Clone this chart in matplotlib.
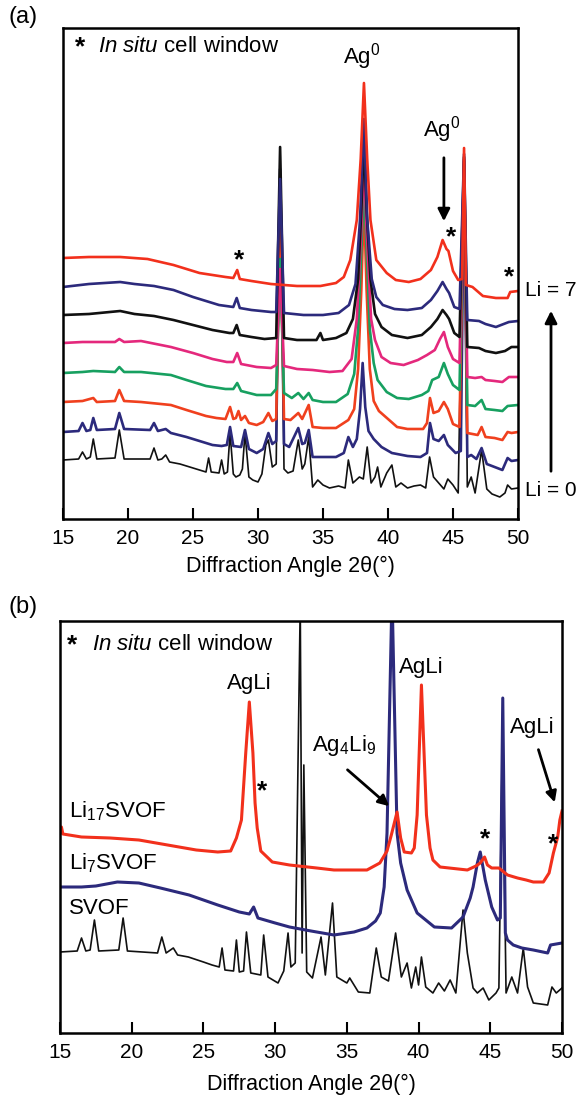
import matplotlib
matplotlib.use('Agg')
import matplotlib.pyplot as plt

plt.rcParams['font.family'] = ['Liberation Sans', 'DejaVu Sans']
plt.rcParams['mathtext.fontset'] = 'custom'
plt.rcParams['mathtext.rm'] = 'Liberation Sans'
plt.rcParams['mathtext.it'] = 'Liberation Sans:italic'

# ---- panel (a): in situ patterns, Li = 0 ... 7 (2theta, offset intensity) ----
li0 = [(15, 59), (16.2, 60), (16.5, 67), (16.8, 60), (17.1, 62), (17.33, 80), (17.6, 60), (19.0, 61),
       (19.33, 89), (19.7, 60), (21.7, 60), (22.0, 71), (22.3, 59), (22.6, 60), (22.9, 64), (23.2, 57),
       (24.0, 55), (25.0, 51), (26.0, 47), (26.2, 61), (26.4, 47), (27.0, 46), (27.2, 59), (27.4, 45),
       (27.65, 47), (27.85, 86), (28.1, 45), (28.3, 42), (28.6, 44), (28.8, 50), (29.0, 86), (29.3, 42),
       (29.6, 39), (30.0, 37), (30.3, 45), (30.6, 74), (30.8, 79), (31.1, 52), (31.4, 55), (31.7, 372),
       (32.0, 50), (32.3, 46), (32.7, 48), (33.1, 79), (33.4, 50), (33.6, 55), (33.9, 82), (34.2, 32),
       (34.6, 39), (35.0, 34), (35.5, 31), (36.2, 33), (36.7, 31), (36.95, 59), (37.3, 36), (37.8, 42),
       (38.1, 40), (38.4, 72), (38.7, 36), (39.0, 42), (39.2, 52), (39.45, 32), (39.9, 46), (40.3, 54),
       (40.6, 32), (41.0, 36), (41.5, 31), (42.0, 33), (42.5, 34), (42.9, 31), (43.2, 62), (43.5, 42),
       (43.9, 36), (44.3, 30), (44.6, 40), (45.0, 34), (45.4, 26), (45.85, 360), (46.1, 32), (46.4, 42),
       (46.7, 26), (47.2, 69), (47.6, 30), (48.0, 25), (48.6, 22), (49.0, 26), (49.2, 34), (49.5, 30),
       (50, 31)]
li1 = [(15, 87), (16.2, 88), (16.5, 96), (16.8, 88), (17.1, 89), (17.33, 101), (17.6, 89), (19.0, 90),
       (19.33, 106), (19.7, 90), (21.7, 89), (22.0, 96), (22.3, 88), (22.9, 90), (23.3, 86), (24.5, 82),
       (26.0, 76), (26.5, 74), (27.2, 73), (27.6, 74), (27.85, 92), (28.1, 73), (28.7, 72), (29.0, 89),
       (29.3, 70), (29.9, 66), (30.4, 70), (30.8, 86), (31.1, 75), (31.4, 78), (31.7, 350), (32.0, 75),
       (32.4, 72), (33.1, 91), (33.4, 75), (33.6, 76), (33.9, 89), (34.2, 62), (35.0, 62), (36.0, 62),
       (36.6, 66), (36.95, 82), (37.3, 72), (37.6, 80), (37.85, 110), (38.05, 156), (38.25, 112),
       (38.5, 88), (38.9, 80), (39.5, 72), (40.3, 66), (41.5, 63), (42.5, 62), (43.0, 66), (43.23, 96),
       (43.5, 80), (43.9, 78), (44.3, 84), (44.6, 74), (45.2, 66), (45.6, 68), (45.85, 350), (46.1, 62),
       (46.4, 64), (46.8, 60), (47.2, 71), (47.6, 55), (48.2, 52), (48.8, 49), (49.2, 61), (49.5, 58),
       (50, 59)]
li2 = [(15, 117), (16.5, 118), (17.33, 121), (17.6, 117), (19.0, 118), (19.33, 129), (19.7, 118),
       (21, 117), (23.3, 114), (24.5, 109), (26.0, 103), (26.8, 101), (27.5, 100), (27.85, 112),
       (28.1, 100), (28.3, 101), (28.5, 108), (28.7, 99), (29.0, 103), (29.3, 96), (29.9, 94), (30.4, 97),
       (30.8, 106), (31.1, 98), (31.4, 100), (31.7, 300), (32.0, 100), (32.5, 99), (33.1, 106),
       (33.4, 100), (33.9, 114), (34.2, 92), (35.0, 91), (36.0, 91), (36.95, 99), (37.4, 110),
       (37.7, 150), (37.95, 230), (38.15, 320), (38.35, 230), (38.6, 150), (38.9, 118), (39.3, 108),
       (40.0, 100), (40.7, 92), (41.5, 90), (42.7, 90), (43.0, 96), (43.23, 121), (43.5, 106),
       (43.9, 108), (44.3, 117), (44.6, 110), (45.0, 95), (45.5, 92), (45.85, 355), (46.1, 86),
       (46.5, 85), (46.9, 84), (47.2, 92), (47.5, 82), (48.2, 81), (48.8, 79), (49.2, 87), (49.5, 86),
       (50, 87)]
li3 = [(15, 146), (16.5, 147), (17.33, 148), (19.0, 147), (19.33, 152), (19.7, 147), (21, 147),
       (23.3, 144), (24.5, 139), (26.0, 133), (27.5, 130), (28.1, 130), (28.4, 136), (28.7, 128),
       (29.9, 124), (31.0, 124), (31.4, 130), (31.7, 260), (32.0, 126), (32.6, 121), (33.1, 126),
       (33.5, 120), (33.9, 126), (34.2, 119), (35.0, 117), (36.0, 117), (36.9, 125), (37.4, 145),
       (37.7, 190), (37.95, 270), (38.15, 340), (38.35, 270), (38.6, 190), (38.9, 156), (39.2, 139),
       (39.9, 127), (40.7, 121), (41.6, 120), (42.6, 124), (43.1, 128), (43.4, 139), (43.9, 142),
       (44.3, 156), (44.6, 145), (45.0, 134), (45.5, 129), (45.85, 358), (46.1, 114), (46.7, 113),
       (47.2, 119), (47.5, 110), (48.2, 109), (48.8, 108), (49.2, 113), (50, 114)]
li4 = [(15, 176), (16.5, 177), (19.0, 177), (19.33, 180), (19.7, 177), (21, 178), (23.3, 172),
       (25.0, 166), (26.5, 160), (27.6, 157), (28.1, 157), (28.4, 166), (28.7, 155), (29.9, 152),
       (31.0, 151), (31.4, 154), (31.7, 250), (32.0, 153), (33.0, 150), (34.2, 149), (35.5, 147),
       (36.5, 148), (37.2, 160), (37.6, 200), (37.95, 290), (38.15, 360), (38.35, 290), (38.7, 200),
       (39.0, 179), (39.5, 162), (40.2, 156), (41.2, 154), (42.3, 159), (43.0, 164), (43.6, 169),
       (44.0, 180), (44.3, 187), (44.6, 172), (45.0, 160), (45.5, 156), (45.85, 360), (46.1, 142),
       (46.7, 141), (47.2, 142), (47.5, 139), (48.2, 138), (48.8, 137), (49.3, 142), (50, 142)]
li5 = [(15, 204), (17, 205), (19.4, 208), (20.5, 205), (22, 203), (23.5, 199), (25, 194), (26.5, 189),
       (27.8, 186), (28.1, 186), (28.36, 194), (28.6, 184), (29.5, 182), (30.5, 180), (31.4, 181),
       (31.7, 372), (32.0, 181), (33.0, 179), (34.5, 179), (34.8, 186), (35.0, 179), (36.0, 181),
       (36.8, 186), (37.3, 200), (37.7, 240), (37.95, 310), (38.15, 380), (38.35, 310), (38.65, 240),
       (39.0, 205), (39.5, 192), (40.3, 184), (41.5, 181), (42.6, 184), (43.3, 192), (43.8, 200),
       (44.2, 209), (44.5, 204), (44.7, 200), (45.1, 186), (45.5, 182), (45.85, 362), (46.1, 172),
       (47.0, 171), (47.5, 168), (48.3, 166), (49.0, 168), (49.5, 172), (50, 172)]
li6 = [(15, 232), (17, 235), (19.4, 237), (20.5, 235), (22, 233), (23.5, 229), (25, 222), (27, 214),
       (28.1, 212), (28.36, 221), (28.6, 211), (29.5, 209), (31.0, 207), (31.4, 207), (31.7, 340),
       (32.0, 206), (33.5, 204), (35.0, 204), (36.2, 206), (37.0, 214), (37.5, 235), (37.85, 300),
       (38.15, 400), (38.4, 300), (38.75, 240), (39.1, 222), (39.6, 214), (40.5, 210), (41.5, 209),
       (42.6, 211), (43.3, 219), (43.8, 228), (44.2, 237), (44.5, 230), (44.7, 226), (45.1, 212),
       (45.5, 210), (45.85, 365), (46.1, 199), (47.0, 198), (47.5, 195), (48.3, 192), (48.9, 195),
       (49.3, 197), (50, 198)]
li7 = [(15, 261), (17, 262), (19.4, 262), (21.5, 260), (23.5, 254), (25.5, 246), (27.5, 242),
       (28.1, 241), (28.4, 249), (28.6, 240), (29.5, 238), (31.0, 235), (33.0, 233), (34.8, 233),
       (36.0, 236), (36.6, 242), (37.1, 259), (37.6, 299), (37.9, 360), (38.15, 436), (38.4, 360),
       (38.65, 299), (39.1, 259), (39.9, 246), (40.6, 239), (41.6, 237), (42.5, 240), (43.3, 249),
       (43.8, 262), (44.2, 279), (44.5, 270), (44.65, 268), (45.0, 248), (45.4, 239), (45.7, 240),
       (45.85, 371), (46.0, 234), (46.5, 232), (47.3, 223), (48.3, 221), (49.2, 221), (49.4, 227),
       (50, 228)]
traces_a = [li0, li1, li2, li3, li4, li5, li6, li7]
colors_a = ['#111111', '#2c2a7c', '#f0401e', '#17a060', '#e4287c', '#111111', '#2c2a7c', '#f2301c']

# ---- panel (b): SVOF, Li7SVOF, Li17SVOF ----
svof = [(15, 81), (16.2, 82), (16.5, 95), (16.8, 82), (17.1, 83), (17.4, 113), (17.7, 82), (19.1, 83),
        (19.4, 115), (19.7, 82), (21.8, 80), (22.1, 96), (22.4, 80), (22.9, 85), (23.2, 78), (23.95, 76),
        (25.0, 71), (25.6, 68), (26.1, 66), (26.3, 85), (26.5, 63), (27.1, 62), (27.3, 93), (27.5, 61),
        (27.8, 62), (28.0, 101), (28.3, 60), (29.0, 58), (29.2, 98), (29.5, 56), (30.2, 50), (30.6, 62),
        (30.9, 100), (31.1, 66), (31.4, 70), (31.75, 430), (31.88, 80), (32.0, 268), (32.2, 61),
        (32.6, 55), (33.2, 96), (33.5, 58), (34.0, 130), (34.3, 56), (35.0, 50), (35.2, 55), (35.8, 41),
        (36.6, 40), (37.05, 85), (37.4, 56), (37.9, 52), (38.4, 100), (38.8, 56), (39.2, 70), (39.5, 45),
        (39.8, 66), (40.0, 48), (40.2, 76), (40.5, 46), (41.0, 40), (41.4, 50), (41.8, 42), (42.2, 53),
        (42.6, 40), (43.1, 123), (43.4, 80), (43.8, 45), (44.1, 40), (44.5, 45), (44.9, 33), (45.4, 40),
        (45.6, 45), (45.85, 300), (46.1, 40), (46.5, 56), (46.9, 40), (47.3, 85), (47.6, 46), (48.0, 30),
        (49.0, 28), (49.3, 46), (49.6, 40), (50, 45)]
li7svof = [(15, 146), (16.5, 146), (17.5, 147), (19.0, 151), (20.5, 150), (22.0, 145), (24.0, 138),
           (26.0, 128), (27.5, 121), (28.2, 119), (28.5, 126), (28.8, 115), (30.0, 110), (31.0, 106),
           (32.5, 102), (34.1, 98), (35.5, 101), (36.4, 105), (37.0, 112), (37.33, 120), (37.6, 146),
           (37.8, 200), (38.15, 440), (38.5, 200), (38.75, 170), (39.2, 143), (39.9, 120), (41.1, 106),
           (42.3, 105), (43.1, 116), (43.6, 135), (43.8, 146), (44.1, 170), (44.3, 181), (44.5, 165),
           (44.65, 153), (45.1, 126), (45.5, 113), (45.7, 115), (45.87, 335), (46.05, 100), (46.2, 93),
           (46.6, 88), (47.2, 85), (48.0, 83), (49.0, 80), (49.2, 88), (50, 90)]
li17svof = [(15, 200), (15.1, 206), (15.2, 199), (16.5, 196), (18.5, 195), (20.5, 193), (22.5, 188),
            (24.5, 183), (26.0, 181), (26.9, 182), (27.3, 195), (27.65, 213), (27.95, 280), (28.2, 331),
            (28.45, 280), (28.6, 230), (28.75, 205), (29.0, 182), (29.8, 171), (31.0, 168), (32.9, 165),
            (34.1, 163), (36.4, 163), (37.3, 170), (37.8, 182), (38.1, 198), (38.5, 221), (38.75, 195),
            (39.0, 181), (39.5, 180), (39.7, 185), (39.9, 218), (40.2, 348), (40.55, 218), (40.8, 185),
            (41.0, 173), (41.5, 166), (43.4, 163), (44.0, 167), (44.3, 170), (44.6, 176), (44.8, 168),
            (45.1, 165), (45.6, 165), (46.2, 158), (46.9, 155), (47.5, 153), (48.0, 151), (48.7, 151),
            (49.1, 160), (49.4, 180), (49.7, 196), (49.85, 213), (50, 222)]
traces_b = [svof, li7svof, li17svof]
colors_b = ['#111111', '#2c2a7c', '#f2301c']
xticks = [15, 20, 25, 30, 35, 40, 45, 50]

LBL = 16      # annotation size
STAR = dict(fontsize=19, fontweight='bold', ha='center', va='center')


def style_axes(ax, ytop, lpad):
    ax.set_xlim(15, 50)
    ax.set_ylim(0, ytop)
    ax.set_xticks(xticks)
    ax.set_yticks([])
    ax.tick_params(axis='x', direction='in', length=8, width=1.5, labelsize=15, pad=7)
    for s in ax.spines.values():
        s.set_linewidth(1.8)
    ax.set_xlabel('Diffraction Angle 2\u03b8(\u00b0)', fontsize=15.5, labelpad=lpad)


def window_note(ax, x0, y0):
    ax.text(x0, y0, '*', **STAR)
    ax.text(x0 + 1.4, y0, '$\\mathit{In\\ situ}$ cell window', fontsize=16, va='center', ha='left')


fig = plt.figure(figsize=(5.8, 10.99), dpi=100)

# (a)
ax1 = fig.add_axes([63 / 580, 1 - 519 / 1099, 455 / 580, 491 / 1099])
for tr, c in zip(traces_a, colors_a):
    xs = [p[0] for p in tr]
    ys = [p[1] for p in tr]
    lw = 1.2 if tr is li0 else 1.9
    ax1.plot(xs, ys, color=c, lw=lw)
style_axes(ax1, 491, 6)
window_note(ax1, 16.3, 472)
ax1.text(38.0, 462, 'Ag$^0$', fontsize=LBL, ha='center', va='center')
ax1.text(44.1, 389, 'Ag$^0$', fontsize=LBL, ha='center', va='center')
ax1.annotate('', xy=(44.3, 295), xytext=(44.3, 364),
             arrowprops=dict(arrowstyle='-|>', color='black', lw=2, mutation_scale=18))
ax1.text(28.55, 259, '*', **STAR)
ax1.text(44.85, 282, '*', **STAR)
ax1.text(49.3, 242, '*', clip_on=False, **STAR)
fig.text(8 / 580, 1 - 17 / 1099, '(a)', fontsize=17, va='center', ha='left')
fig.text(525 / 580, 1 - 290 / 1099, 'Li = 7', fontsize=15, va='center', ha='left')
fig.text(525 / 580, 1 - 490 / 1099, 'Li = 0', fontsize=15, va='center', ha='left')
fig.patches.append(matplotlib.patches.FancyArrowPatch(
    (551 / 580, 1 - 474 / 1099), (551 / 580, 1 - 308 / 1099), transform=fig.transFigure,
    arrowstyle='-|>', mutation_scale=18, lw=2, color='black'))

# (b)
ax2 = fig.add_axes([60 / 580, 1 - 1033 / 1099, 502 / 580, 412 / 1099])
for tr, c in zip(traces_b, colors_b):
    xs = [p[0] for p in tr]
    ys = [p[1] for p in tr]
    lw = 1.2 if tr is svof else 2.2
    ax2.plot(xs, ys, color=c, lw=lw)
style_axes(ax2, 412, 9)
window_note(ax2, 15.85, 388)
ax2.text(28.2, 350, 'AgLi', fontsize=LBL, ha='center', va='center')
ax2.text(40.2, 366, 'AgLi', fontsize=LBL, ha='center', va='center')
ax2.text(47.9, 305, 'AgLi', fontsize=LBL, ha='center', va='center')
ax2.text(34.8, 287, 'Ag$_4$Li$_9$', fontsize=LBL, ha='center', va='center')
ax2.annotate('', xy=(38.1, 225), xytext=(34.9, 265),
             arrowprops=dict(arrowstyle='-|>', color='black', lw=2, mutation_scale=16))
ax2.annotate('', xy=(49.55, 228), xytext=(48.3, 286),
             arrowprops=dict(arrowstyle='-|>', color='black', lw=2, mutation_scale=16))
ax2.text(15.6, 222, 'Li$_{17}$SVOF', fontsize=LBL, ha='left', va='center')
ax2.text(15.6, 170, 'Li$_7$SVOF', fontsize=LBL, ha='left', va='center')
ax2.text(15.6, 124, 'SVOF', fontsize=LBL, ha='left', va='center')
ax2.text(29.1, 242, '*', **STAR)
ax2.text(44.66, 194, '*', **STAR)
ax2.text(49.4, 189, '*', **STAR)
fig.text(8 / 580, 1 - 607 / 1099, '(b)', fontsize=17, va='center', ha='left')

fig.savefig('out.png', dpi=100)
